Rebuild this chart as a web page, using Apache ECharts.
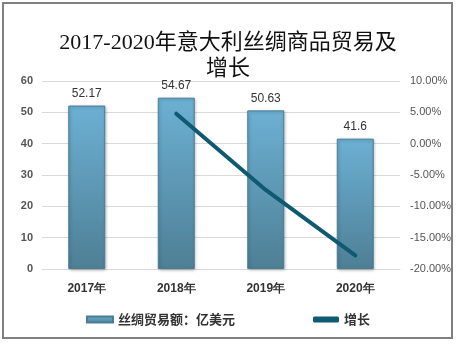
<!DOCTYPE html>
<html><head><meta charset="utf-8">
<script src="https://cdn.jsdelivr.net/npm/echarts@6/dist/echarts.min.js"></script>
<style>html,body{margin:0;padding:0;background:#fff}#c{width:456px;height:345px}</style>
</head><body><div id="c"></div>
<script>
const categories = ['2017年','2018年','2019年','2020年'];
const tradeValues = [52.17, 54.67, 50.63, 41.6];
const growthValues = [null, 4.79, -7.39, -17.84];
const leftTicks = [0,10,20,30,40,50,60];
const rightTicks = [-20,-15,-10,-5,0,5,10];

const chart = echarts.init(document.getElementById('c'));
chart.setOption({
  animation:false,
  graphic:[{type:'rect',shape:{x:3,y:3,width:449,height:335},style:{fill:'none',stroke:'#808080',lineWidth:2},silent:true}],
  title:{text:'2017-2020年意大利丝绸商品贸易及\n增长',left:'center',top:25,
    textStyle:{fontFamily:'Liberation Serif, Noto Sans CJK SC',fontSize:22,fontWeight:'normal',color:'#111',lineHeight:26}},
  legend:{bottom:14,left:'center',itemGap:78,itemWidth:26,itemHeight:6,
    textStyle:{fontSize:13,fontWeight:'bold',color:'#333',fontFamily:'Noto Sans CJK SC'},
    data:[{name:'丝绸贸易额：亿美元',icon:'rect'},{name:'增长',icon:'roundRect'}]},
  grid:{left:42,right:56,top:81,bottom:76},
  xAxis:{type:'category',data:categories,axisTick:{show:false},
    axisLine:{lineStyle:{color:'#d9d9d9'}},
    axisLabel:{fontSize:12,fontWeight:'bold',color:'#333',margin:14}},
  yAxis:[{type:'value',min:0,max:60,interval:10,
      axisLabel:{fontSize:11,fontWeight:'bold',color:'#555',margin:9},
      splitLine:{lineStyle:{color:'#d9d9d9'}}},
    {type:'value',min:-20,max:10,interval:5,
      axisLabel:{fontSize:11,color:'#555',margin:10,formatter:v=>v.toFixed(2)+'%'},
      splitLine:{show:false}}],
  series:[{name:'丝绸贸易额：亿美元',type:'bar',barWidth:37,data:tradeValues,
      itemStyle:{color:new echarts.graphic.LinearGradient(0,0,0,1,[{offset:0,color:'#6cb0d3'},{offset:1,color:'#4e7f95'}]),
        borderColor:'#4a7d96',borderWidth:1,shadowColor:'rgba(0,0,0,0.25)',shadowBlur:3,shadowOffsetX:1,shadowOffsetY:1},
      label:{show:true,position:'top',fontSize:12,color:'#333',distance:6}},
    {name:'增长',type:'line',yAxisIndex:1,data:growthValues,symbol:'none',
      lineStyle:{color:'#0f5a70',width:4,cap:'round'},itemStyle:{color:'#0f5a70'}}]
});
</script></body></html>
